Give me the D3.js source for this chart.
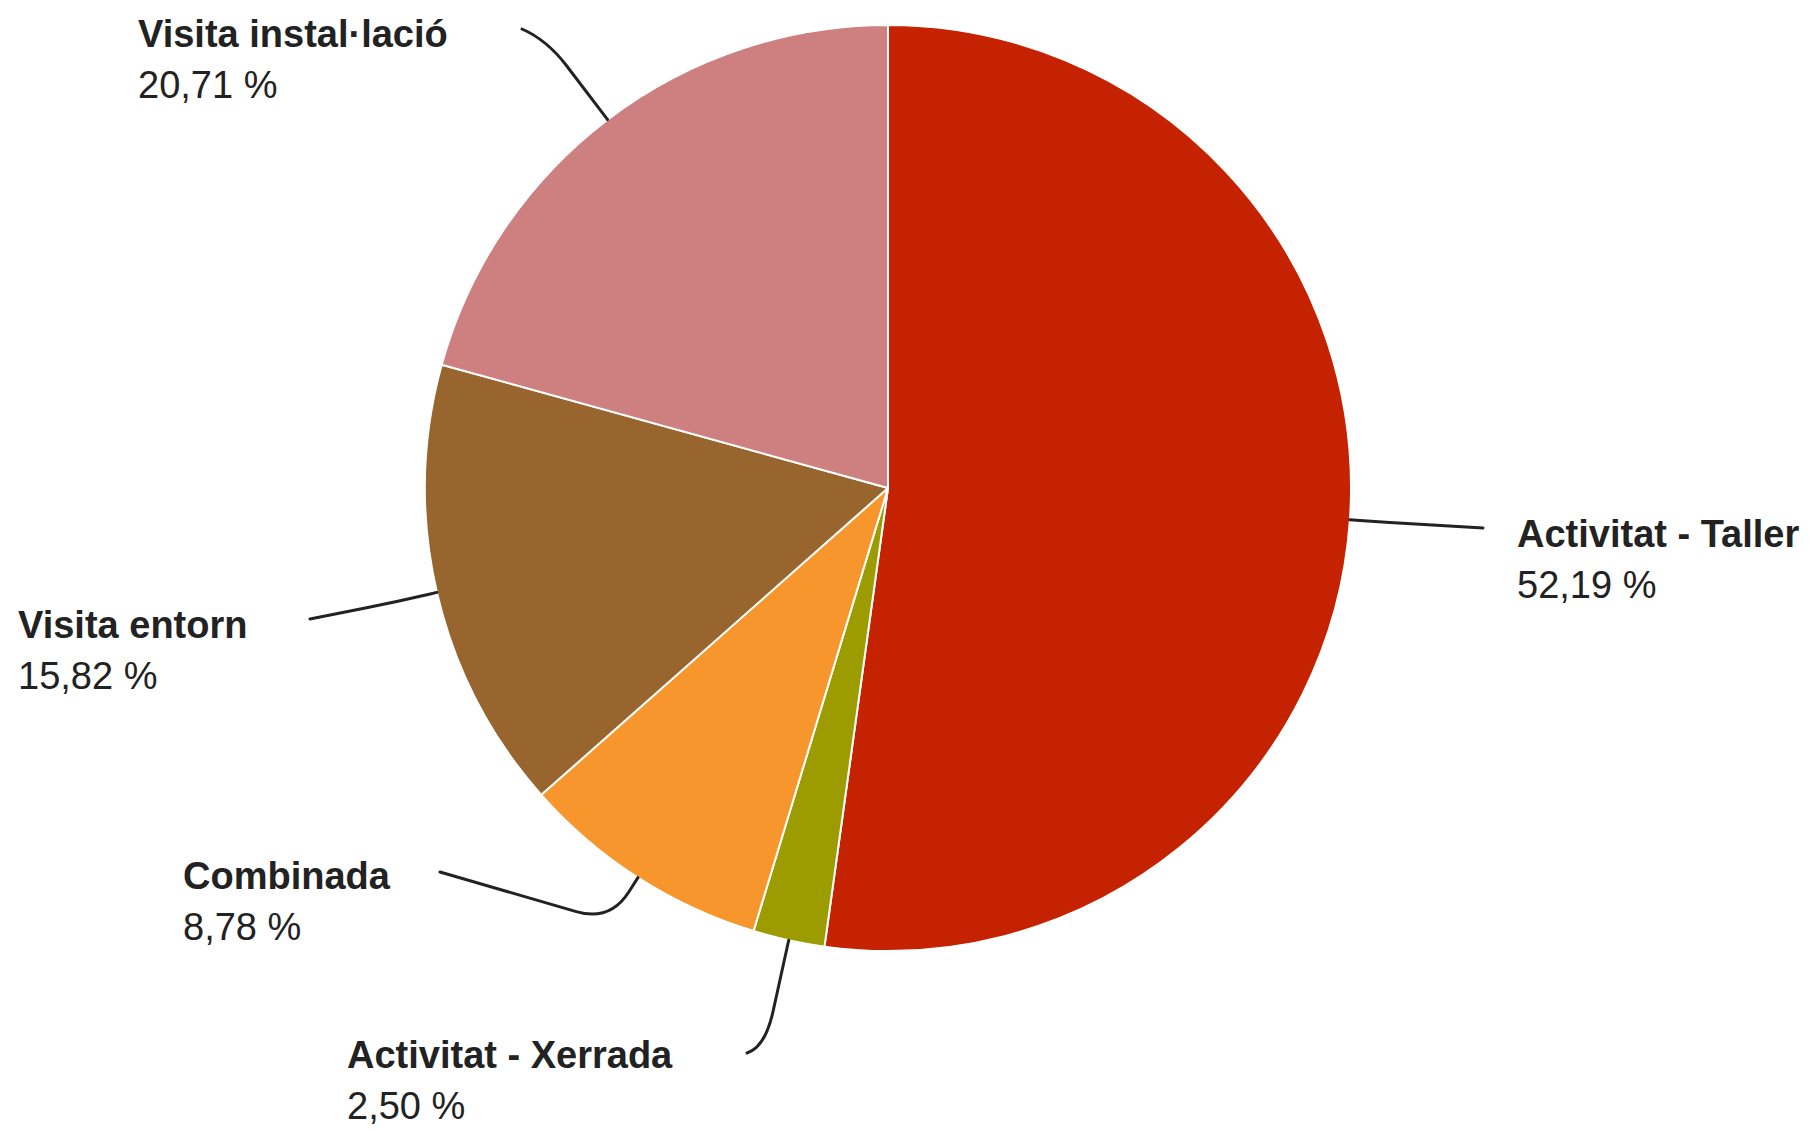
<!DOCTYPE html>
<html>
<head>
<meta charset="utf-8">
<script src="https://cdn.jsdelivr.net/npm/d3@7"></script>
<style>
    body { margin: 0; background: #fff; }
</style>
</head>
<body>
<div id="chart"></div>
<script>
// Data
const categories = ["Activitat - Taller", "Activitat - Xerrada", "Combinada", "Visita entorn", "Visita instal·lació"];
const shares = [52.19, 2.50, 8.78, 15.82, 20.71];
const percentLabels = ["52,19 %", "2,50 %", "8,78 %", "15,82 %", "20,71 %"];

// Styles / layout
const sliceColors = ["#C42200", "#9C9C00", "#F7962C", "#98652F", "#CE8080"];
// label block position (text x, first baseline) and leader line end / elbow
const labelLayout = [
    {x: 1517, y: 547, endX: 1483, endY: 528, ext: 40, rc: 30},
    {x: 347, y: 1068, endX: 747, endY: 1053, ext: 110, rc: 38},
    {x: 183, y: 889, endX: 440, endY: 872, ext: 52, rc: 35},
    {x: 18, y: 638, endX: 310, endY: 619, ext: 40, rc: 32},
    {x: 138, y: 47, endX: 522, endY: 29, ext: 100, rc: 32}
];

const width = 1818;
const height = 1131;
const cx = 888;
const cy = 488;
const radius = 463;
const lineGap = 51;

const svg = d3.select("#chart").append("svg")
    .attr("width", width)
    .attr("height", height)
    .attr("style", "font-family: 'Liberation Sans', Arial, sans-serif;");

svg.append("rect")
    .attr("width", width)
    .attr("height", height)
    .attr("fill", "#fff");

const rows = categories.map((c, i) => ({name: c, value: shares[i], pct: percentLabels[i], color: sliceColors[i], lab: labelLayout[i]}));

const pie = d3.pie()
    .sort(null)
    .value(d => d.value);

const arc = d3.arc()
    .innerRadius(0)
    .outerRadius(radius);

const arcs = pie(rows);

const g = svg.append("g")
    .attr("transform", `translate(${cx},${cy})`);

g.selectAll("path.slice")
    .data(arcs)
    .join("path")
    .attr("class", "slice")
    .attr("d", arc)
    .attr("fill", d => d.data.color)
    .attr("stroke", "#fff")
    .attr("stroke-width", 2)
    .attr("stroke-linejoin", "round");

// leader lines: radial out from the slice middle, rounded elbow, then to the label
function leader(d) {
    const a = (d.startAngle + d.endAngle) / 2;
    const dx = Math.sin(a), dy = -Math.cos(a);
    const x0 = cx + radius * dx, y0 = cy + radius * dy;
    const ex = cx + (radius + d.data.lab.ext) * dx, ey = cy + (radius + d.data.lab.ext) * dy;
    const x2 = d.data.lab.endX, y2 = d.data.lab.endY;
    const outLen = Math.hypot(x2 - ex, y2 - ey);
    const rc = Math.min(d.data.lab.rc, d.data.lab.ext * 0.9);
    const ax = ex - dx * rc, ay = ey - dy * rc;
    let bx = x2, by = y2;
    if (rc < outLen) {
        bx = ex + (x2 - ex) / outLen * rc;
        by = ey + (y2 - ey) / outLen * rc;
    }
    return `M${x0},${y0}L${ax},${ay}Q${ex},${ey} ${bx},${by}L${x2},${y2}`;
}

svg.append("g")
    .selectAll("path")
    .data(arcs)
    .join("path")
    .attr("d", leader)
    .attr("fill", "none")
    .attr("stroke", "#222")
    .attr("stroke-width", 3)
    .attr("stroke-linecap", "round");

const labels = svg.append("g")
    .selectAll("g")
    .data(arcs)
    .join("g");

labels.append("text")
    .attr("x", d => d.data.lab.x)
    .attr("y", d => d.data.lab.y)
    .attr("font-size", 38)
    .attr("font-weight", "bold")
    .attr("fill", "#222")
    .text(d => d.data.name);

labels.append("text")
    .attr("x", d => d.data.lab.x)
    .attr("y", d => d.data.lab.y + lineGap)
    .attr("font-size", 38)
    .attr("fill", "#222")
    .text(d => d.data.pct);
</script>
</body>
</html>
